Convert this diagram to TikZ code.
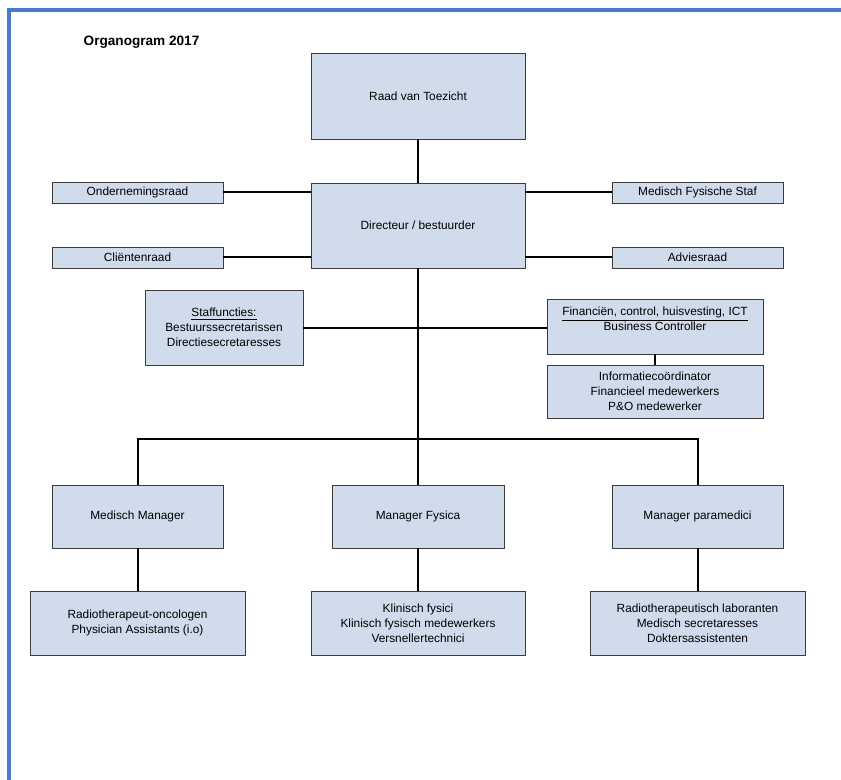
\documentclass[tikz,border=0pt]{standalone}
\usepackage{fontspec}
\setmainfont{Liberation Sans}
\usetikzlibrary{positioning, calc}
\definecolor{orgfill}{HTML}{D0DBEC}
\definecolor{orgedge}{HTML}{3C3C3C}
\definecolor{orgframe}{HTML}{4A7BC8}

\begin{document}
\begin{tikzpicture}[x=0.75pt, y=-0.75pt,
          b/.style={draw=orgedge, fill=orgfill, line width=0.6pt, font=\fontsize{8.9}{11.1}\selectfont, minimum width=#1, inner sep=1pt, align=center},
          b/.default=160.5pt,
          lnk/.style={line width=1.5pt, color=black}]
        \useasboundingbox (0,0) rectangle (841,780);
        \draw[orgframe, line width=3pt] (9,780) -- (9,10) -- (841,10);
        \node[anchor=west, font=\bfseries\fontsize{10.2}{12}\selectfont] (titel) at (79,42) {Organogram 2017};
        % top
        \node[b, minimum height=64.5pt] (raad) at (418,96) {Raad van Toezicht};
        \node[b, minimum height=63.75pt] (dir) at (418,225.5) {Directeur / bestuurder};
        \node[b=128.25pt, minimum height=15.75pt] (or) at (137.5,192.5) {Ondernemingsraad};
        \node[b=128.25pt, minimum height=15.75pt] (cr) at (137.5,257.5) {Cliëntenraad};
        \node[b=128.25pt, minimum height=15.75pt] (mfs) at (697.5,192.5) {Medisch Fysische Staf};
        \node[b=128.25pt, minimum height=15.75pt] (adv) at (697.5,257.5) {Adviesraad};
        % staf
        \node[b=118.5pt, minimum height=56.25pt] (staf) at (224,327.5) {\underline{Staffuncties:}\\Bestuurssecretarissen\\Directiesecretaresses};
        \node[b=162pt, minimum height=41.25pt] (fin) at (655,326.5) {\underline{Financiën, control, huisvesting, ICT}\\Business Controller\\\mbox{}};
        \node[b=162pt, minimum height=39.75pt] (info) at (655,391.5) {Informatiecoördinator\\Financieel medewerkers\\P\&O medewerker};
        % managers
        \node[b=128.25pt, minimum height=47.25pt] (mm) at (137.5,516.5) {Medisch Manager};
        \node[b=129pt, minimum height=47.25pt] (mf) at (418,516.5) {Manager Fysica};
        \node[b=128.25pt, minimum height=47.25pt] (mp) at (697.5,516.5) {Manager paramedici};
        \node[b=161.25pt, minimum height=48pt] (mmt) at (137.5,623) {Radiotherapeut-oncologen\\Physician Assistants (i.o)};
        \node[b=160.5pt, minimum height=48pt] (mft) at (418,623) {Klinisch fysici\\Klinisch fysisch medewerkers\\Versnellertechnici};
        \node[b=161.25pt, minimum height=48pt] (mpt) at (697.5,623) {Radiotherapeutisch laboranten\\Medisch secretaresses\\Doktersassistenten};
        \coordinate (tak) at (418,439);
        % lijnen
        \draw[lnk] (raad) -- (dir);
        \draw[lnk] (or.east) -- (or.east -| dir.west);
        \draw[lnk] (cr.east) -- (cr.east -| dir.west);
        \draw[lnk] (mfs.west) -- (mfs.west -| dir.east);
        \draw[lnk] (adv.west) -- (adv.west -| dir.east);
        \draw[lnk] (dir) -- (mf);
        \draw[lnk] (staf.east) -- (staf.east -| fin.west);
        \draw[lnk] (fin) -- (info);
        \draw[lnk] (mm.north) |- (tak) -| (mp.north);
        \draw[lnk] (mm) -- (mmt);
        \draw[lnk] (mf) -- (mft);
        \draw[lnk] (mp) -- (mpt);
      \end{tikzpicture}
\end{document}
